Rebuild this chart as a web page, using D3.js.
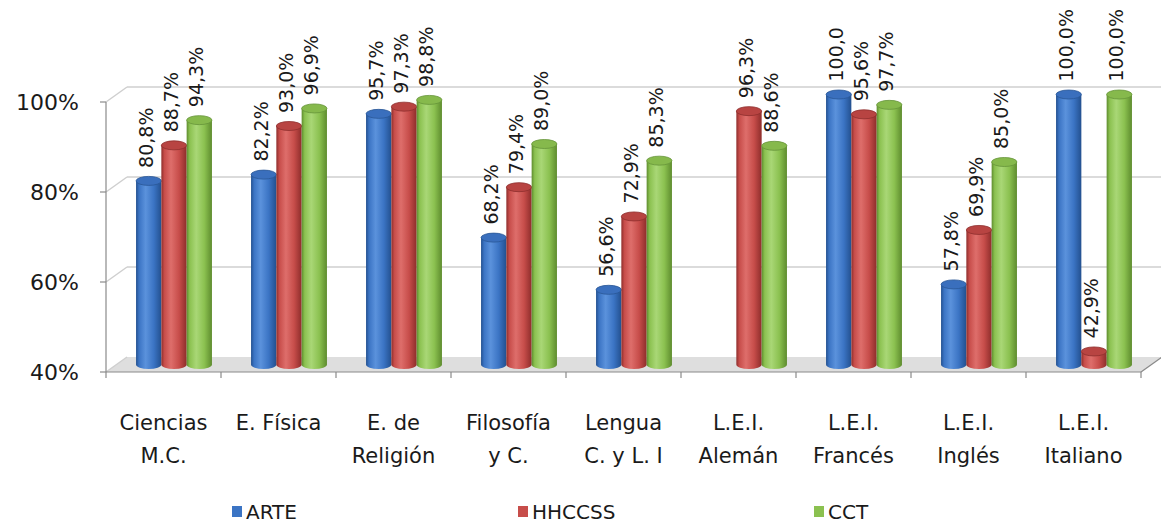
<!DOCTYPE html>
<html>
<head>
<meta charset="utf-8">
<script src="https://cdn.jsdelivr.net/npm/d3@7"></script>
<style>
  html, body { margin: 0; padding: 0; background: #ffffff; }
  svg { display: block; }
  text { font-family: "DejaVu Sans", "Liberation Sans", Arial, sans-serif; fill: #1a1a1a; }
</style>
</head>
<body>
<svg id="chart" width="1161" height="524"></svg>
<script>
// Subjects (category axis) and the three series, in percent
const categories = [
  ["Ciencias", "M.C."],
  ["E. Física"],
  ["E. de", "Religión"],
  ["Filosofía", "y C."],
  ["Lengua", "C. y L. I"],
  ["L.E.I.", "Alemán"],
  ["L.E.I.", "Francés"],
  ["L.E.I.", "Inglés"],
  ["L.E.I.", "Italiano"]
];
const seriesNames = ["ARTE", "HHCCSS", "CCT"];
const arte   = [80.8, 82.2, 95.7, 68.2, 56.6, null, 100.0, 57.8, 100.0];
const hhccss = [88.7, 93.0, 97.3, 79.4, 72.9, 96.3, 95.6, 69.9, 42.9];
const cct    = [94.3, 96.9, 98.8, 89.0, 85.3, 88.6, 97.7, 85.0, 100.0];
const yTicks = [40, 60, 80, 100];
// label that runs out of room at the top edge and loses its "%"
const shortLabels = [[6, 0]];

const seriesValues = [arte, hhccss, cct];
const colors = [
  { dark: "#23508f", light: "#5b92dc", mid: "#3b74c4", top: "#3a6fbd", rim: "#2a5796" },
  { dark: "#8e2d2b", light: "#de6e6b", mid: "#c74d4a", top: "#b84442", rim: "#8e2f2d" },
  { dark: "#5e8c2e", light: "#a9d776", mid: "#8bc150", top: "#86b94c", rim: "#66943a" }
];

const svg = d3.select("#chart");

// front plane of the 3-D box and its depth offset
const x0 = 106, x1 = 1141;
const depth = { dx: 21, dy: -15 };
const mid = { dx: depth.dx / 2, dy: depth.dy / 2 };

const y = d3.scaleLinear().domain([40, 100]).range([372, 102]);
const idx = d3.range(categories.length);
const x = d3.scaleBand().domain(idx).range([x0, x1]).padding(0);
const bw = x.bandwidth();
const xs = d3.scaleBand().domain(d3.range(seriesNames.length))
  .range([bw * 0.17, bw * 0.83]).padding(0);

const defs = svg.append("defs");
colors.forEach((c, i) => {
  const g = defs.append("linearGradient").attr("id", "cyl" + i)
    .attr("x1", "0%").attr("x2", "100%").attr("y1", "0%").attr("y2", "0%");
  g.append("stop").attr("offset", "0%").attr("stop-color", c.dark);
  g.append("stop").attr("offset", "12%").attr("stop-color", c.mid);
  g.append("stop").attr("offset", "38%").attr("stop-color", c.light);
  g.append("stop").attr("offset", "70%").attr("stop-color", c.mid);
  g.append("stop").attr("offset", "100%").attr("stop-color", c.dark);
});

const gridColor = "#cfcfcf";
const axisColor = "#8a8a8a";

// floor
const yb = y(40);
svg.append("path")
  .attr("d", `M${x0},${yb} L${x1},${yb} L${x1 + depth.dx},${yb + depth.dy} L${x0 + depth.dx},${yb + depth.dy} Z`)
  .attr("fill", "#dedede");

// back-wall gridlines and side-wall diagonals
yTicks.filter(t => t > 40).forEach(t => {
  const yf = y(t);
  svg.append("line")
    .attr("x1", x0 + depth.dx).attr("x2", x1 + depth.dx)
    .attr("y1", yf + depth.dy).attr("y2", yf + depth.dy)
    .attr("stroke", gridColor).attr("stroke-width", 1.5);
  svg.append("line")
    .attr("x1", x0).attr("y1", yf).attr("x2", x0 + depth.dx).attr("y2", yf + depth.dy)
    .attr("stroke", gridColor).attr("stroke-width", 1.5);
});
// floor side edges
svg.append("line")
  .attr("x1", x0).attr("y1", yb).attr("x2", x0 + depth.dx).attr("y2", yb + depth.dy)
  .attr("stroke", gridColor).attr("stroke-width", 1.5);
svg.append("line")
  .attr("x1", x1).attr("y1", yb).attr("x2", x1 + depth.dx).attr("y2", yb + depth.dy)
  .attr("stroke", axisColor).attr("stroke-width", 1.2);

// cylinders
const ry = 4.5;
const barsG = svg.append("g");
idx.forEach(ci => {
  seriesValues.forEach((vals, si) => {
    const v = vals[ci];
    if (v == null) return;
    const left = x(ci) + xs(si) + mid.dx;
    const w = xs.bandwidth();
    const cx = left + w / 2;
    const rx = w / 2;
    const yTop = y(v) + mid.dy;
    const yBot = y(40) + mid.dy;
    const g = barsG.append("g");
    g.append("path")
      .attr("d", `M${left},${yTop} L${left},${yBot} A${rx},${ry} 0 0 0 ${left + w},${yBot} L${left + w},${yTop} Z`)
      .attr("fill", `url(#cyl${si})`);
    g.append("ellipse")
      .attr("cx", cx).attr("cy", yTop).attr("rx", rx).attr("ry", ry)
      .attr("fill", colors[si].top).attr("stroke", colors[si].rim).attr("stroke-width", 0.8);
  });
});

// value labels, rotated
const fmt = v => d3.format(".1f")(v).replace(".", ",");
const labelsG = svg.append("g");
idx.forEach(ci => {
  seriesValues.forEach((vals, si) => {
    const v = vals[ci];
    if (v == null) return;
    const cx = x(ci) + xs(si) + xs.bandwidth() / 2 + mid.dx;
    const yTop = y(v) + mid.dy;
    const short = shortLabels.some(d => d[0] === ci && d[1] === si);
    const txt = short ? fmt(v) : fmt(v) + "%";
    labelsG.append("text")
      .attr("transform", `translate(${cx + 4},${yTop - 13}) rotate(-90)`)
      .attr("text-anchor", "start")
      .attr("font-size", 19)
      .text(txt);
  });
});

// value axis
svg.append("line")
  .attr("x1", x0).attr("x2", x0).attr("y1", y(100)).attr("y2", y(40))
  .attr("stroke", axisColor).attr("stroke-width", 1.2);
yTicks.forEach(t => {
  svg.append("line")
    .attr("x1", x0 - 6).attr("x2", x0).attr("y1", y(t)).attr("y2", y(t))
    .attr("stroke", axisColor).attr("stroke-width", 1.2);
  svg.append("text")
    .attr("x", 79).attr("y", y(t) + 8)
    .attr("text-anchor", "end").attr("font-size", 22)
    .text(t + "%");
});

// category axis
svg.append("line")
  .attr("x1", x0).attr("x2", x1).attr("y1", yb).attr("y2", yb)
  .attr("stroke", axisColor).attr("stroke-width", 1.2);
d3.range(categories.length + 1).forEach(i => {
  const xt = x0 + i * bw;
  svg.append("line")
    .attr("x1", xt).attr("x2", xt).attr("y1", yb).attr("y2", yb + 6)
    .attr("stroke", axisColor).attr("stroke-width", 1.2);
});
idx.forEach(ci => {
  const t = svg.append("text")
    .attr("text-anchor", "middle").attr("font-size", 21);
  categories[ci].forEach((line, li) => {
    t.append("tspan")
      .attr("x", x(ci) + bw / 2)
      .attr("y", 430 + li * 33)
      .text(line);
  });
});

// legend
const legendX = [232, 518, 814];
seriesNames.forEach((name, si) => {
  svg.append("rect")
    .attr("x", legendX[si]).attr("y", 506).attr("width", 10).attr("height", 11)
    .attr("fill", colors[si].mid);
  svg.append("text")
    .attr("x", legendX[si] + 14).attr("y", 519)
    .attr("font-size", 20)
    .text(name);
});
</script>
</body>
</html>
